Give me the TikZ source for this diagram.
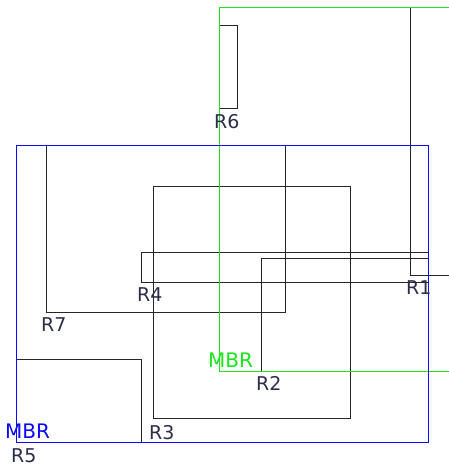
\documentclass[tikz,border=0pt]{standalone}
\usepackage{fontspec}
\setmainfont{DejaVu Sans}
\definecolor{labelink}{HTML}{2B2E4A}
\definecolor{mbrblue}{HTML}{0A0AF5}
\definecolor{mbrgreen}{HTML}{1AE61A}
\begin{document}
\begin{tikzpicture}[x=1pt,y=-1pt,
  rect/.style={draw=black!85,line width=1.2pt},
  mbrb/.style={draw=mbrblue,line width=1.2pt},
  mbrg/.style={draw=mbrgreen,line width=1.2pt},
  rlabel/.style={anchor=base west,inner sep=0pt,text=labelink,font=\fontsize{19}{19}\selectfont},
  mlabel/.style={anchor=base west,inner sep=0pt,font=\fontsize{20}{20}\selectfont}]
\useasboundingbox (0,0) rectangle (449,466);
% data rectangles
\draw[rect] (410.5,7.5) rectangle (470,275.5);
\draw[rect] (261.5,258.5) rectangle (428.5,371.5);
\draw[rect] (153.5,186.5) rectangle (350.5,418.5);
\draw[rect] (141.5,252.5) rectangle (428.5,282.5);
\draw[rect] (16.5,359.5) rectangle (141.5,442.5);
\draw[rect] (219.5,25.5) rectangle (237.5,108.5);
\draw[rect] (46.5,145.5) rectangle (285.5,312.5);
% bounding rectangles of the two groups
\draw[mbrg] (219.5,7.5) rectangle (470,371.5);
\draw[mbrb] (16.5,145.5) rectangle (428.5,442.5);
% labels
\node[rlabel] (l1) at (406,294) {R1};
\node[rlabel] (l2) at (256,390) {R2};
\node[rlabel] (l3) at (149,439) {R3};
\node[rlabel] (l4) at (137,301) {R4};
\node[rlabel] (l5) at (11,462) {R5};
\node[rlabel] (l6) at (214,128) {R6};
\node[rlabel] (l7) at (41,331) {R7};
\node[mlabel,text=mbrblue] (mb) at (5,438) {MBR};
\node[mlabel,text=mbrgreen] (mg) at (208,367) {MBR};
\end{tikzpicture}
\end{document}
